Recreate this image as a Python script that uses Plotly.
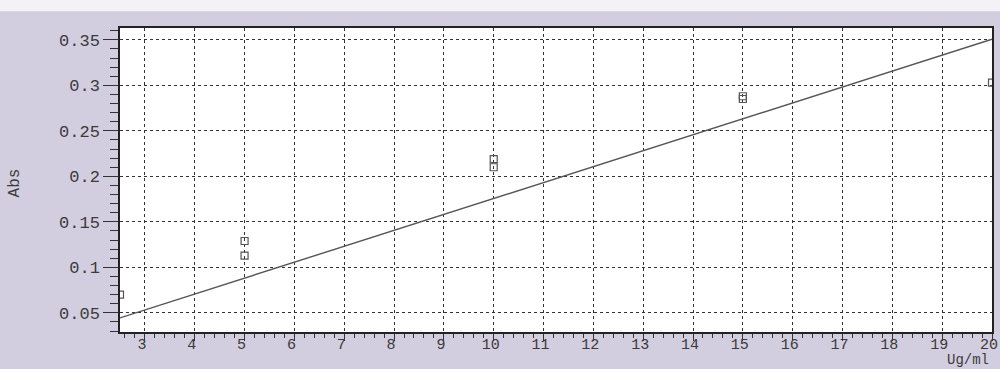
import plotly.graph_objects as go

# Calibration standards: concentration (Ug/ml) and measured absorbance
conc = [2.5, 5, 5, 10, 10, 15, 15, 20]
absorbance = [0.070, 0.129, 0.113, 0.219, 0.210, 0.288, 0.285, 0.303]

# Calibration line: Abs = slope * conc + intercept
slope = 0.0175
intercept = 0.0007

x_range = [2.5, 20]
y_range = [0.029, 0.363]

x_ticks = list(range(3, 21))
y_ticks = [0.05, 0.1, 0.15, 0.2, 0.25, 0.3, 0.35]
y_tick_text = ["0.05", "0.1", "0.15", "0.2", "0.25", "0.3", "0.35"]

FONT = "Liberation Mono, Courier New, monospace"
INK = "#3a3a3a"

line_x = x_range
line_y = [slope * v + intercept for v in line_x]

fig = go.Figure()
fig.add_trace(go.Scatter(
    x=line_x, y=line_y, mode="lines",
    line=dict(color="#555555", width=1.4),
    hoverinfo="skip",
))
fig.add_trace(go.Scatter(
    x=conc, y=absorbance, mode="markers",
    marker=dict(symbol="square-open", size=7, color="#555555",
                line=dict(width=1.2)),
))

axis_common = dict(
    showline=True, linecolor="#222222", linewidth=1.5, mirror=True,
    showgrid=True, gridcolor="#333333", gridwidth=1, griddash="3px,3px",
    ticks="outside", tickcolor="#333333", tickwidth=1.2,
    zeroline=False, automargin=False,
)

fig.update_xaxes(
    range=x_range, tickvals=x_ticks, ticklen=7, ticklabelstandoff=-10,
    ticklabelshift=-3, ticklabeloverflow="allow",
    tickfont=dict(family=FONT, size=15, color=INK),
    minor=dict(dtick=0.2, tick0=0, ticks="outside", ticklen=4,
               tickcolor="#333333", tickwidth=1, showgrid=False),
    **axis_common,
)
fig.update_yaxes(
    range=y_range, tickvals=y_ticks, ticktext=y_tick_text, ticklen=15,
    tickfont=dict(family=FONT, size=17, color=INK),
    minor=dict(dtick=0.01, tick0=0, ticks="outside", ticklen=8,
               tickcolor="#333333", tickwidth=1, showgrid=False),
    **axis_common,
)

fig.add_annotation(
    text="Ug/ml", xref="paper", yref="paper", x=0.999, y=-0.1246,
    xanchor="right", yanchor="bottom", showarrow=False,
    font=dict(family=FONT, size=14, color=INK),
)
fig.add_annotation(
    text="Abs", xref="paper", yref="paper", x=-0.12, y=0.49,
    xanchor="center", yanchor="middle", textangle=-90, showarrow=False,
    font=dict(family=FONT, size=16, color=INK),
)

# light band along the top edge of the sheet
fig.add_shape(type="rect", xref="paper", yref="paper",
              x0=-0.2, x1=1.1, y0=1.055, y1=1.2,
              fillcolor="#f4f2f6", line=dict(width=0), layer="below")

fig.update_layout(
    width=1000, height=369,
    margin=dict(l=120, r=8, t=28, b=37),
    paper_bgcolor="#d3cde0", plot_bgcolor="#ffffff",
    showlegend=False,
)

fig.write_html("out.html")
